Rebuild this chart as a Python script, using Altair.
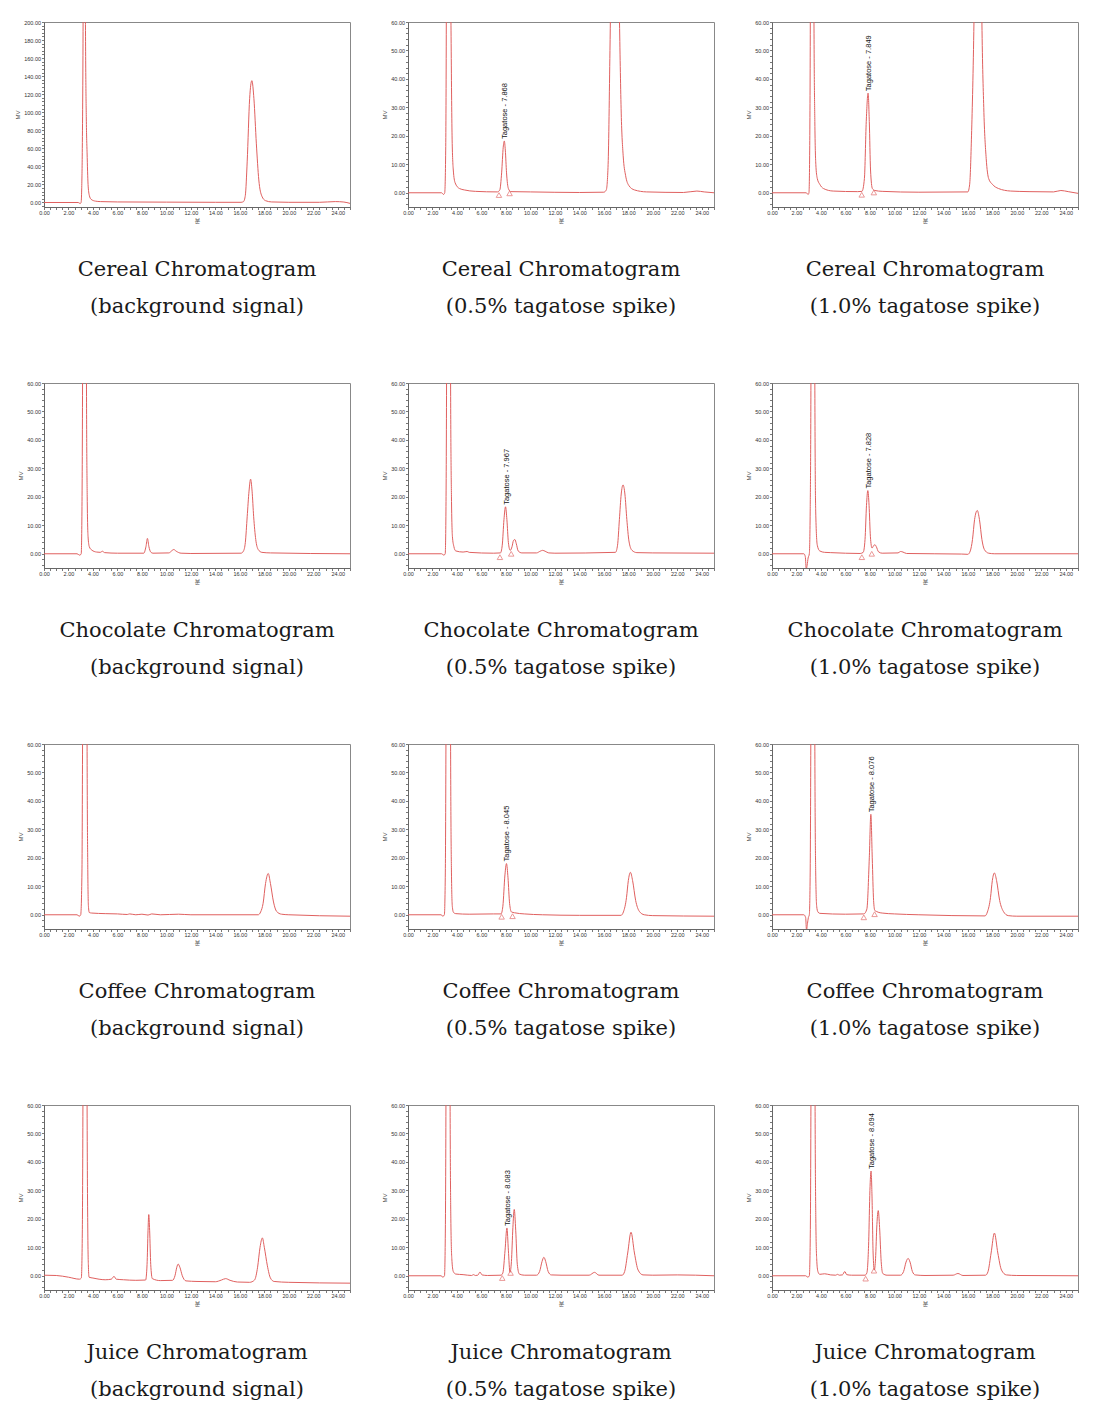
import altair as alt
import pandas as pd

PRODUCTS = ["Cereal", "Chocolate", "Coffee", "Juice"]
CONDITIONS = ["(background signal)", "(0.5% tagatose spike)", "(1.0% tagatose spike)"]

# ---- traces (retention time in min, signal in mV) ----
CEREAL_BG_T = [0, 2.8, 2.95, 3.03, 3.08, 3.13, 3.2, 3.3, 3.38, 3.46, 3.52, 3.6, 3.7, 3.85, 4.2, 4.6, 6, 10, 14,
               16.1, 16.3, 16.45, 16.6, 16.8, 16.98, 17.15, 17.35, 17.55, 17.8, 18.1, 18.6, 20, 22.5, 23.8, 24.5, 25]
CEREAL_BG_MV = [0, 0, -1.2, 0, 15, 60, 220, 800, 220, 90, 55, 20, 8, 3.5, 1.5, 1, 0.6, 0.4, 0.2,
                0.2, 1, 8, 45, 115, 135, 115, 65, 25, 7, 2, 0.6, 0.2, 0.2, 1, 0.5, -1]

CEREAL_05_T = [0, 2.75, 2.9, 3.0, 3.08, 3.13, 3.2, 3.3, 3.38, 3.46, 3.52, 3.6, 3.7, 3.85, 4.2, 4.6,
               5.5, 7.3, 7.5, 7.65, 7.78, 7.868, 7.95, 8.05, 8.2, 8.4, 10, 14,
               16.0, 16.2, 16.35, 16.5, 16.7, 16.9, 17.1, 17.28, 17.42, 17.58, 17.78, 18.05, 18.5, 19.5,
               22.5, 23.6, 24.2, 25]
CEREAL_05_MV = [0, 0, -0.6, 0, 15, 60, 220, 800, 220, 90, 55, 20, 8, 3.5, 1.5, 1,
                0.5, 0.3, 1, 7, 16, 18.2, 15, 7, 1.5, 0.4, 0.3, 0.1,
                0.2, 1, 10, 50, 115, 135, 115, 60, 28, 13, 6, 2.5, 1, 0.3,
                0.1, 0.6, 0.3, 0]

CEREAL_10_T = [0, 2.8, 2.95, 3.02, 3.08, 3.13, 3.2, 3.3, 3.37, 3.43, 3.5, 3.58, 3.7, 3.9, 4.2, 5,
               7, 7.35, 7.55, 7.7, 7.849, 7.95, 8.05, 8.2, 8.4, 9, 12,
               16.0, 16.15, 16.3, 16.5, 16.7, 16.85, 17.0, 17.15, 17.3, 17.5, 17.7, 18.0, 18.5, 19.5,
               21, 23, 23.6, 24.2, 25]
CEREAL_10_MV = [0, 0, -0.6, 0, 15, 60, 220, 800, 220, 60, 25, 10, 5, 3, 1.5, 0.6,
                0.4, 0.5, 5, 25, 35, 25, 8, 1.5, 0.8, 0.5, 0.2,
                0.3, 3, 20, 60, 130, 140, 130, 60, 30, 12, 5, 3, 1.5, 0.6,
                0.4, 0.3, 0.8, 0.4, -0.2]

CHOC_BG_T = [0, 2.7, 2.92, 3.04, 3.1, 3.15, 3.22, 3.32, 3.4, 3.47, 3.53, 3.6, 3.7, 3.9, 4.3, 4.6, 4.77, 4.95,
             6, 8.15, 8.33, 8.45, 8.57, 8.72, 8.9, 10.2, 10.45, 10.6, 10.8, 11.2, 12,
             16.1, 16.3, 16.45, 16.6, 16.75, 16.88, 17.0, 17.13, 17.3, 17.5, 17.8, 18.5, 25]
CHOC_BG_MV = [0, 0, -0.5, 0, 15, 60, 220, 800, 220, 60, 20, 6, 2.5, 1.3, 0.6, 0.5, 0.9, 0.4,
              0.2, 0.2, 2.5, 5.4, 2.5, 0.6, 0.2, 0.3, 1.1, 1.5, 0.9, 0.2, 0.1,
              0.2, 1, 4, 13, 22, 26.2, 22, 13, 5, 1.5, 0.5, 0.3, 0]

CHOC_05_T = [0, 2.75, 2.93, 3.04, 3.1, 3.15, 3.22, 3.32, 3.4, 3.48, 3.55, 3.63, 3.75, 3.9, 4.5, 4.83, 5.0,
             7.0, 7.55, 7.7, 7.84, 7.967, 8.08, 8.2, 8.35, 8.5, 8.62, 8.73, 8.85, 9.0, 9.3,
             10.5, 10.8, 11.0, 11.2, 11.5, 12,
             16.95, 17.12, 17.27, 17.42, 17.57, 17.72, 17.88, 18.05, 18.3, 18.7, 20, 25]
CHOC_05_MV = [0, 0, -0.5, 0, 15, 60, 220, 800, 220, 60, 20, 6, 2.5, 1, 0.6, 0.8, 0.5,
              0.2, 0.3, 3, 12, 16.5, 12, 4, 1.2, 2.5, 4.7, 5, 3.5, 1, 0.3,
              0.3, 0.9, 1.2, 0.9, 0.3, 0.2,
              0.5, 3, 12, 21, 24.2, 21, 12, 4.5, 1.2, 0.4, 0.3, 0.2]

CHOC_10_T = [0, 2.6, 2.72, 2.8, 2.87, 2.95, 3.05,
             3.12, 3.18, 3.25, 3.35, 3.43, 3.5, 3.57, 3.7, 3.9, 4.3, 4.8,
             7.2, 7.45, 7.6, 7.72, 7.828, 7.93, 8.04, 8.17, 8.3, 8.4, 8.52, 8.7, 9.0,
             10.3, 10.5, 10.7, 11,
             15.5, 16.0, 16.2, 16.38, 16.55, 16.77, 16.95, 17.15, 17.35, 17.7, 18.2, 25]
CHOC_10_MV = [0, 0, -1, -5.5, -4, -1.5, 0,
              15, 60, 220, 800, 220, 60, 15, 3, 1, 0.5, 0.4,
              0.1, 0.5, 5, 17, 22.2, 17, 6, 2, 2.8, 3.2, 2.5, 0.7, 0.2,
              0.3, 0.8, 0.6, 0.1,
              -0.1, -0.2, 1, 5, 12, 15.2, 12, 5, 1.5, 0.2, 0, 0]

COFFEE_BG_T = [0, 2.7, 2.88, 3.0, 3.1, 3.15, 3.25, 3.35, 3.45, 3.52, 3.58, 3.63, 3.7, 3.9,
               5, 6, 6.8, 7, 7.5, 8, 8.5, 8.8, 9.5, 11, 12,
               17.5, 17.7, 17.9, 18.1, 18.32, 18.5, 18.75, 19.0, 19.4, 20, 25]
COFFEE_BG_MV = [0, 0, -0.5, 0, 15, 60, 220, 800, 220, 60, 15, 3, 0.8, 0.6,
                0.4, 0.3, 0.1, 0.3, 0, 0.2, -0.1, 0.3, 0, 0.2, 0,
                0, 1, 4, 11, 14.5, 11, 4.5, 1.2, 0.2, 0, -0.5]

COFFEE_05_T = [0, 2.7, 2.85, 2.97, 3.05, 3.1, 3.2, 3.3, 3.4, 3.48, 3.55, 3.62, 3.72, 3.9,
               5, 7, 7.6, 7.75, 7.92, 8.045, 8.17, 8.3, 8.45, 8.7, 9.5, 11, 14,
               17.4, 17.6, 17.85, 18.0, 18.17, 18.35, 18.6, 18.9, 19.3, 20, 25]
COFFEE_05_MV = [0, 0, -0.5, 0, 15, 60, 220, 800, 220, 60, 15, 3, 0.8, 0.4,
                0.2, 0.3, 0.3, 3, 14, 18, 13, 4, 1, 0.7, 0.3, 0, -0.2,
                -0.2, 1, 6, 12, 14.9, 12, 5, 1.2, 0, -0.3, -0.5]

COFFEE_10_T = [0, 2.6, 2.75, 2.82, 2.9, 2.97, 3.05,
               3.12, 3.17, 3.25, 3.35, 3.43, 3.5, 3.57, 3.65, 3.75, 3.9,
               6, 7.5, 7.75, 7.95, 8.076, 8.19, 8.3, 8.4, 8.52, 8.67, 9, 10, 12,
               17.4, 17.6, 17.85, 18.0, 18.17, 18.35, 18.6, 18.9, 19.3, 20, 25]
COFFEE_10_MV = [0, 0, -1, -5.5, -3, -1, 0,
                15, 60, 220, 800, 220, 60, 15, 3, 1, 0.5,
                0.2, 0.3, 2, 20, 35.3, 20, 5, 1.5, 1.2, 0.9, 0.6, 0.3, 0,
                -0.4, 1, 6, 12, 14.7, 12, 5, 1.2, -0.3, -0.5, -0.5]

JUICE_BG_T = [0, 1, 2, 2.9, 3.05,
              3.13, 3.18, 3.26, 3.36, 3.44, 3.52, 3.58, 3.63, 3.68,
              4, 5.0, 5.5, 5.72, 5.9, 6.5, 7.5,
              8.3, 8.42, 8.5, 8.56, 8.63, 8.72, 8.85,
              9.5, 10.5, 10.7, 10.85, 10.96, 11.1, 11.3, 11.6,
              12.5, 14.0, 14.5, 14.84, 15.2, 15.8, 16.8,
              17.2, 17.45, 17.65, 17.84, 18.0, 18.25, 18.5, 18.8, 20, 25]
JUICE_BG_MV = [0.2, 0.1, -0.5, -1.2, -0.8,
               15, 60, 220, 800, 220, 60, 15, 3, -0.5,
               -0.8, -1.4, -1.2, -0.2, -1.2, -1.4, -1.6,
               -1.5, 4, 16, 21.5, 16, 4, -1,
               -1.7, -1.6, 0, 3, 4.1, 3, 0, -1.8,
               -2, -2.1, -1.5, -1, -1.6, -2.2, -2.3,
               -1.5, 3, 10, 13.3, 10, 3.5, -0.8, -2, -2.3, -2.6]

JUICE_05_T = [0, 2.7, 2.85, 2.98,
              3.05, 3.1, 3.18, 3.28, 3.36, 3.44, 3.5, 3.58, 3.7, 3.9,
              4.5, 5.2, 5.35, 5.5, 5.7, 5.88, 6.05, 6.5,
              7.6, 7.75, 7.93, 8.083, 8.2, 8.33, 8.45, 8.57, 8.68, 8.8, 8.93, 9.1, 9.5,
              10.5, 10.75, 10.95, 11.1, 11.25, 11.45, 11.7, 12.5,
              14.8, 15.24, 15.6,
              17.5, 17.7, 17.95, 18.22, 18.5, 18.8, 19.2, 20, 22, 25]
JUICE_05_MV = [0, 0, -0.5, 0,
               15, 60, 220, 800, 220, 60, 20, 6, 1.5, 0.6,
               0.4, 0.1, 0.4, 0.1, 0.2, 1.3, 0.3, 0.1,
               0.2, 1, 9, 16.8, 9, 1.2, 5, 17, 23.3, 16, 4, 0.6, 0.2,
               0.2, 1.5, 5, 6.5, 5, 1.5, 0.3, 0.2,
               0.2, 1.2, 0.2,
               0.2, 1.5, 8, 15.3, 8, 2, 0.3, 0.2, 0.3, 0]

JUICE_10_T = [0, 2.75, 2.93,
              3.05, 3.13, 3.18, 3.26, 3.36, 3.44, 3.52, 3.58, 3.65, 3.75, 3.9,
              4.3, 4.8, 5.2, 5.35, 5.5, 5.75, 5.95, 6.1, 6.5,
              7.6, 7.75, 7.9, 8.0, 8.094, 8.17, 8.26, 8.36, 8.46, 8.57, 8.68, 8.79, 8.92, 9.05, 9.4,
              10.5, 10.75, 10.95, 11.12, 11.28, 11.47, 11.7, 12.5,
              14.8, 15.19, 15.6,
              17.45, 17.65, 17.9, 18.17, 18.45, 18.75, 19.15, 20, 25]
JUICE_10_MV = [0, 0, -0.5,
               0, 15, 60, 220, 800, 220, 60, 20, 6, 1.5, 0.5,
               0.7, 0.3, 0.2, 0.5, 0.2, 0.3, 1.5, 0.4, 0.2,
               0.2, 1, 12, 30, 36.8, 28, 8, 2, 6, 18, 22.9, 17, 5, 0.8, 0.2,
               0.2, 1.5, 4.8, 6.1, 4.8, 1.5, 0.3, 0.1,
               0.2, 0.8, 0.1,
               0.2, 1.5, 8, 15, 8, 2, 0.3, 0.1, 0]

TRACES = [
    (CEREAL_BG_T, CEREAL_BG_MV), (CEREAL_05_T, CEREAL_05_MV), (CEREAL_10_T, CEREAL_10_MV),
    (CHOC_BG_T, CHOC_BG_MV), (CHOC_05_T, CHOC_05_MV), (CHOC_10_T, CHOC_10_MV),
    (COFFEE_BG_T, COFFEE_BG_MV), (COFFEE_05_T, COFFEE_05_MV), (COFFEE_10_T, COFFEE_10_MV),
    (JUICE_BG_T, JUICE_BG_MV), (JUICE_05_T, JUICE_05_MV), (JUICE_10_T, JUICE_10_MV),
]
Y_MAX = [200, 60, 60, 60, 60, 60, 60, 60, 60, 60, 60, 60]

# ---- tagatose peak labels (spiked panels, in panel order) ----
TAG_PANEL = [1, 2, 4, 5, 7, 8, 10, 11]
TAG_RT = [7.868, 7.849, 7.967, 7.828, 8.045, 8.076, 8.083, 8.094]
TAG_APEX = [18.2, 35, 16.5, 22.2, 18, 35.3, 16.8, 36.8]
TAG_LABEL = ["Tagatose - 7.868", "Tagatose - 7.849", "Tagatose - 7.967", "Tagatose - 7.828",
             "Tagatose - 8.045", "Tagatose - 8.076", "Tagatose - 8.083", "Tagatose - 8.094"]
# integration start / end markers
MARK_T = [[7.43, 8.3], [7.33, 8.32], [7.51, 8.43], [7.34, 8.15],
          [7.65, 8.54], [7.5, 8.38], [7.7, 8.38], [7.65, 8.33]]
MARK_MV = [[-0.8, -0.2], [-0.7, 0.1], [-1.2, 0], [-1.2, 0],
           [-0.7, -0.5], [-0.9, 0.2], [-0.8, 1], [-1, 1.8]]

X_TICKS = [i * 0.5 for i in range(51)]

RED = "#e0605f"
W, H = 306, 185


def make_panel(i):
    t, mv = TRACES[i]
    ymax = Y_MAX[i]
    if ymax > 100:
        y_ticks = list(range(-4, 201, 4))
        lab_step = 20
    else:
        y_ticks = list(range(-4, 61, 2))
        lab_step = 10
    xs = alt.Scale(domain=[0, 25], nice=False, zero=False)
    ys = alt.Scale(domain=[-5, ymax], nice=False, zero=False)
    xax = alt.Axis(values=X_TICKS,
                   labelExpr="(datum.value % 2 == 0 && datum.value <= 24) ? format(datum.value, '.2f') : ''",
                   title="분", titleFont="Noto Sans CJK KR", titleFontSize=6, titleFontWeight="normal",
                   titlePadding=1, titleColor="#555", labelOverlap=False, labelFlush=False)
    yax = alt.Axis(values=y_ticks,
                   labelExpr=f"(datum.value % {lab_step} == 0 && datum.value >= 0) ? format(datum.value, '.2f') : ''",
                   title="MV", titleFont="Liberation Sans", titleFontSize=6, titleFontWeight="normal",
                   titlePadding=3, titleColor="#555", labelOverlap=False, labelFlush=False)
    X = alt.X("t:Q", scale=xs, axis=xax)
    Y = alt.Y("mv:Q", scale=ys, axis=yax)
    df = pd.DataFrame({"t": t, "mv": mv})
    layers = [alt.Chart(df).mark_line(color=RED, strokeWidth=1, interpolate="monotone", clip=True).encode(
        x=X, y=Y)]
    if i in TAG_PANEL:
        k = TAG_PANEL.index(i)
        adf = pd.DataFrame({"t": [TAG_RT[k]], "mv": [TAG_APEX[k]], "label": [TAG_LABEL[k]]})
        layers.append(alt.Chart(adf).mark_text(angle=270, align="left", baseline="middle", dx=2, dy=1,
                                               font="Liberation Sans", fontSize=7.5, color="#111").encode(
            x=X, y=Y, text="label:N"))
        mdf = pd.DataFrame({"t": MARK_T[k], "mv": MARK_MV[k]})
        layers.append(alt.Chart(mdf).mark_point(shape="triangle-up", filled=False, color=RED, size=30,
                                                strokeWidth=0.9).encode(x=X, y=Y))
    title = alt.TitleParams(text=[f"{PRODUCTS[i // 3]} Chromatogram", CONDITIONS[i % 3]],
                            orient="bottom", anchor="middle", font="DejaVu Serif", fontSize=21,
                            fontWeight="normal", color="#1a1a1a", lineHeight=37, offset=36)
    return alt.layer(*layers).properties(width=W, height=H, title=title)


panels = [make_panel(i) for i in range(12)]

chart = alt.concat(*panels, columns=3, spacing={"row": 176, "column": 58}, bounds="flush").properties(
    padding={"left": 14, "top": 19, "right": 5, "bottom": 5}
).configure_view(stroke="#888", strokeWidth=1).configure_axis(
    labelFont="Liberation Sans", labelFontSize=5.5, labelColor="#333", labelPadding=1,
    tickSize=2.5, tickColor="#555", tickWidth=0.8, domainColor="#666", domainWidth=1, grid=False
)

chart.save("out.html", embed_options={"renderer": "svg", "actions": False})
